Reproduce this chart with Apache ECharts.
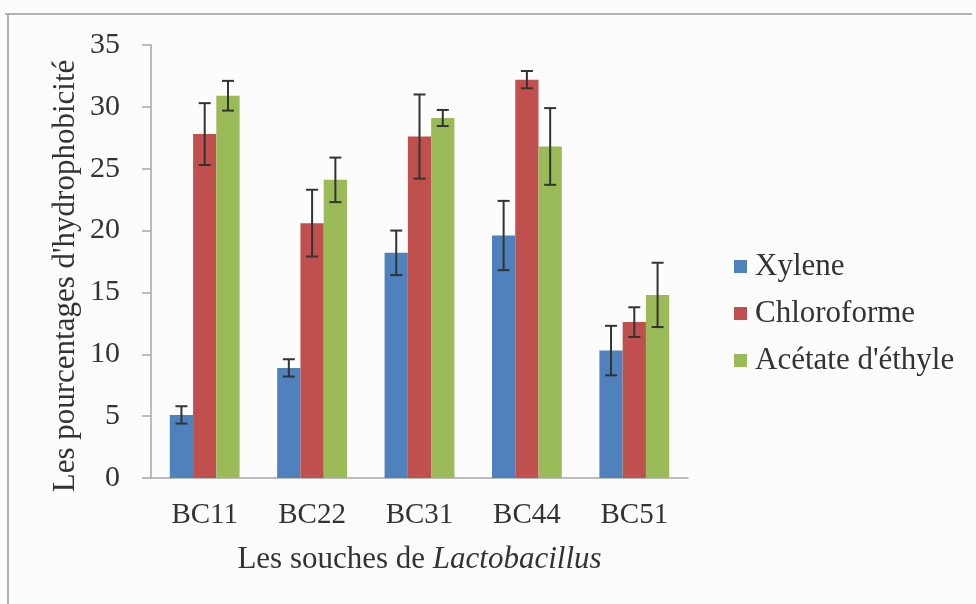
<!DOCTYPE html>
<html>
<head>
<meta charset="utf-8">
<script src="https://cdn.jsdelivr.net/npm/echarts@6/dist/echarts.min.js"></script>
<style>
  html, body { margin: 0; padding: 0; background: #fcfcfc; }
  #chart { width: 976px; height: 604px; }
</style>
</head>
<body>
<div id="chart"></div>
<script>
// Strains and hydrophobicity percentages (mean and standard deviation)
const categories = ['BC11', 'BC22', 'BC31', 'BC44', 'BC51'];
const seriesNames = ['Xylene', 'Chloroforme', "Acétate d'éthyle"];
const xylene = [5.1, 8.9, 18.2, 19.6, 10.3];
const xyleneErr = [0.7, 0.7, 1.8, 2.8, 2.0];
const chloroforme = [27.8, 20.6, 27.6, 32.2, 12.6];
const chloroformeErr = [2.5, 2.7, 3.4, 0.7, 1.2];
const acetate = [30.9, 24.1, 29.1, 26.8, 14.8];
const acetateErr = [1.2, 1.8, 0.65, 3.1, 2.6];
const yTicks = [0, 5, 10, 15, 20, 25, 30, 35];

const colors = ['#4f81bd', '#c0504d', '#9bbb59'];
const textColor = '#333333';
const serif = '"Liberation Serif", "DejaVu Serif", serif';
const categoryGap = 0.35;

function errorRenderer(seriesIndex, count) {
  return function (params, api) {
    const idx = api.value(0);
    const v = api.value(1);
    const e = api.value(2);
    const band = api.size([1, 0])[0];
    const bw = band * (1 - categoryGap) / count;
    const center = api.coord([idx, v]);
    const cx = center[0] + (seriesIndex - (count - 1) / 2) * bw;
    const yTop = api.coord([idx, v + e])[1];
    const yBot = api.coord([idx, v - e])[1];
    const cap = 6;
    const style = { stroke: '#333333', lineWidth: 2 };
    return {
      type: 'group',
      children: [
        { type: 'line', shape: { x1: cx, y1: yTop, x2: cx, y2: yBot }, style: style },
        { type: 'line', shape: { x1: cx - cap, y1: yTop, x2: cx + cap, y2: yTop }, style: style },
        { type: 'line', shape: { x1: cx - cap, y1: yBot, x2: cx + cap, y2: yBot }, style: style }
      ]
    };
  };
}

const means = [xylene, chloroforme, acetate];
const errs = [xyleneErr, chloroformeErr, acetateErr];

const barSeries = means.map((vals, i) => ({
  name: seriesNames[i],
  type: 'bar',
  data: vals,
  barGap: '0%',
  barCategoryGap: (categoryGap * 100) + '%',
  itemStyle: { color: colors[i] }
}));

const errSeries = means.map((vals, i) => ({
  type: 'custom',
  renderItem: errorRenderer(i, means.length),
  data: vals.map((v, k) => [k, v, errs[i][k]]),
  z: 5,
  silent: true
}));

const chart = echarts.init(document.getElementById('chart'), null, { renderer: 'canvas' });
chart.setOption({
  backgroundColor: '#fcfcfc',
  animation: false,
  textStyle: { fontFamily: serif, color: textColor },
  grid: { left: 151, right: 288, top: 45, bottom: 126 },
  legend: {
    orient: 'vertical',
    left: 729,
    top: 246,
    itemWidth: 13,
    itemHeight: 13,
    itemGap: 16,
    icon: 'rect',
    data: seriesNames,
    textStyle: { fontFamily: serif, fontSize: 31, color: textColor, padding: [0, 0, 0, 3] }
  },
  xAxis: {
    type: 'category',
    data: categories,
    axisLine: { lineStyle: { color: '#a6a6a6', width: 1.5 } },
    axisTick: { show: false },
    axisLabel: { fontFamily: serif, fontSize: 29, color: textColor, margin: 23 },
    name: '{a|Les souches de }{b|Lactobacillus}',
    nameLocation: 'middle',
    nameGap: 66,
    nameTextStyle: {
      rich: {
        a: { fontFamily: serif, fontSize: 31, color: textColor },
        b: { fontFamily: serif, fontSize: 31, color: textColor, fontStyle: 'italic' }
      }
    }
  },
  yAxis: {
    type: 'value',
    min: yTicks[0],
    max: yTicks[yTicks.length - 1],
    interval: 5,
    splitLine: { show: false },
    axisLine: { show: true, lineStyle: { color: '#a6a6a6', width: 1.5 } },
    axisTick: { show: true, length: 9, lineStyle: { color: '#a6a6a6', width: 1.5 } },
    axisLabel: { fontFamily: serif, fontSize: 30, color: textColor, margin: 31 }
  },
  graphic: [
    {
      type: 'text',
      x: 66, y: 276,
      rotation: Math.PI / 2,
      style: {
        text: "Les pourcentages d'hydrophobicité",
        font: '31px ' + serif,
        fill: textColor,
        align: 'center',
        verticalAlign: 'middle'
      }
    },
    { type: 'line', shape: { x1: 5, y1: 14, x2: 972, y2: 14 }, style: { stroke: '#9a9a9a', lineWidth: 1.5 } },
    { type: 'line', shape: { x1: 8, y1: 14, x2: 8, y2: 604 }, style: { stroke: '#9a9a9a', lineWidth: 1.5 } }
  ],
  series: barSeries.concat(errSeries)
});
</script>
</body>
</html>
